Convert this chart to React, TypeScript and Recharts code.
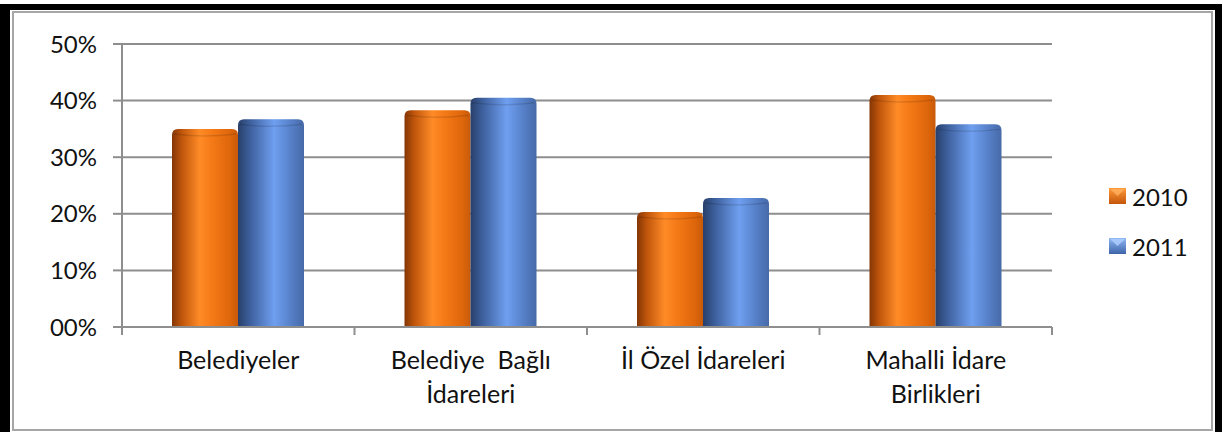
import React from "react";
import { BarChart, Bar, XAxis, YAxis, CartesianGrid } from "recharts";

const categories = [
  "Belediyeler",
  "Belediye  Bağlı\nİdareleri",
  "İl Özel İdareleri",
  "Mahalli İdare\nBirlikleri",
];
const values2010 = [35.0, 38.3, 20.3, 41.0];
const values2011 = [36.7, 40.5, 22.8, 35.8];
const seriesNames = ["2010", "2011"];
const yTicks = [0, 10, 20, 30, 40, 50];
const yTickLabels = ["00%", "10%", "20%", "30%", "40%", "50%"];

const data = categories.map((name, i) => ({
  name,
  y2010: values2010[i],
  y2011: values2011[i],
}));

const W = 1227;
const H = 432;
const margin = { top: 44, right: 175, bottom: 5, left: 0 };
const yAxisWidth = 122;
const xAxisHeight = 100;
const axisY = H - margin.bottom - xAxisHeight;
const band = (W - margin.right - margin.left - yAxisWidth) / categories.length;
const font = "Lato, 'Open Sans', sans-serif";
const gray = "#8e8e8e";

const Gradients = () => (
  <svg width={0} height={0} style={{ position: "absolute" }}>
    <defs>
      <linearGradient id="g2010" x1="0" y1="0" x2="1" y2="0">
        <stop offset="0%" stopColor="#843605" />
        <stop offset="15%" stopColor="#c0560c" />
        <stop offset="42%" stopColor="#ff8b27" />
        <stop offset="60%" stopColor="#f57a17" />
        <stop offset="88%" stopColor="#de660b" />
        <stop offset="100%" stopColor="#c85a0a" />
      </linearGradient>
      <linearGradient id="g2011" x1="0" y1="0" x2="1" y2="0">
        <stop offset="0%" stopColor="#283f6a" />
        <stop offset="18%" stopColor="#3d5f9c" />
        <stop offset="55%" stopColor="#6f9ff0" />
        <stop offset="80%" stopColor="#5680c8" />
        <stop offset="100%" stopColor="#476aa8" />
      </linearGradient>
      <linearGradient id="l2010" x1="0" y1="0" x2="0" y2="1">
        <stop offset="0%" stopColor="#ff9a3a" />
        <stop offset="100%" stopColor="#c4560b" />
      </linearGradient>
      <linearGradient id="l2011" x1="0" y1="0" x2="0" y2="1">
        <stop offset="0%" stopColor="#8fb8f5" />
        <stop offset="100%" stopColor="#3e64a8" />
      </linearGradient>
    </defs>
  </svg>
);

// bar with rounded top, shaded like a cylinder
const CylBar = (props: any) => {
  const { x, y, width, height, gradId } = props;
  if (!height || height <= 0) return null;
  const r = 6;
  const d = `M${x},${y + height} L${x},${y + r} Q${x},${y} ${x + r},${y} L${x + width - r},${y} Q${x + width},${y} ${x + width},${y + r} L${x + width},${y + height} Z`;
  return (
    <g>
      <path d={d} fill={`url(#${gradId})`} />
      <path
        d={`M${x + 2},${y + 5} Q${x + width / 2},${y + 9} ${x + width - 2},${y + 5}`}
        fill="none"
        stroke="#000"
        strokeOpacity={0.12}
        strokeWidth={1.5}
      />
    </g>
  );
};

const XTick = (props: any) => {
  const { x, payload, index } = props;
  const lines = String(payload.value).split("\n");
  return (
    <g>
      <line x1={x - band / 2} x2={x - band / 2} y1={axisY} y2={axisY + 8} stroke={gray} strokeWidth={2} />
      {index === categories.length - 1 && (
        <line x1={x + band / 2} x2={x + band / 2} y1={axisY} y2={axisY + 8} stroke={gray} strokeWidth={2} />
      )}
      <text x={x} y={axisY + 42} textAnchor="middle" fontFamily={font} fontSize={25} fill="#111">
        {lines.map((l, i) => (
          <tspan key={i} x={x} dy={i === 0 ? 0 : 34} style={{ whiteSpace: "pre" }}>
            {l}
          </tspan>
        ))}
      </text>
    </g>
  );
};

const LegendBox = () => (
  <div style={{ position: "absolute", left: 1109, top: 171, fontFamily: font, fontSize: 24, color: "#111" }}>
    {seriesNames.map((n, i) => (
      <div key={n} style={{ display: "flex", alignItems: "center", height: 50 }}>
        <svg width={17} height={16}>
          <rect x={0} y={0} width={17} height={16} fill={`url(#l${n})`} />
          <polygon points="1,1 16,1 8.5,8" fill={i === 0 ? "#ffb060" : "#b0d0ff"} opacity={0.8} />
        </svg>
        <span style={{ marginLeft: 6 }}>{n}</span>
      </div>
    ))}
  </div>
);

export default function App() {
  return (
    <div style={{ position: "absolute", left: 0, top: 0, width: W, height: H, overflow: "hidden", background: "#fff" }}>
      <Gradients />
      <div
        style={{
          position: "absolute",
          left: 0,
          top: 4,
          width: 1222,
          height: 450,
          boxSizing: "border-box",
          borderLeft: "10px solid #000",
          borderTop: "6px solid #000",
          borderRight: "7px solid #000",
        }}
      />
      <div
        style={{
          position: "absolute",
          left: 12,
          top: 11,
          width: 1201,
          height: 420,
          boxSizing: "border-box",
          border: "2px solid #a6a6a6",
        }}
      />
      <div style={{ position: "absolute", left: 0, top: 0 }}>
        <BarChart width={W} height={H} data={data} margin={margin} barGap={0} barSize={66}>
          <CartesianGrid vertical={false} stroke={gray} strokeWidth={2} />
          <XAxis
            dataKey="name"
            height={xAxisHeight}
            interval={0}
            tickLine={false}
            axisLine={{ stroke: gray, strokeWidth: 2 }}
            tick={<XTick />}
          />
          <YAxis
            width={yAxisWidth}
            domain={[0, 50]}
            ticks={yTicks}
            tickFormatter={(v: number) => yTickLabels[yTicks.indexOf(v)]}
            tickSize={9}
            tickMargin={16}
            tickLine={{ stroke: gray, strokeWidth: 2 }}
            axisLine={{ stroke: gray, strokeWidth: 2 }}
            tick={{ fontFamily: font, fontSize: 24, fill: "#111" }}
          />
          <Bar dataKey="y2010" name="2010" isAnimationActive={false} shape={(p: any) => <CylBar {...p} gradId="g2010" />} />
          <Bar dataKey="y2011" name="2011" isAnimationActive={false} shape={(p: any) => <CylBar {...p} gradId="g2011" />} />
        </BarChart>
      </div>
      <LegendBox />
    </div>
  );
}
